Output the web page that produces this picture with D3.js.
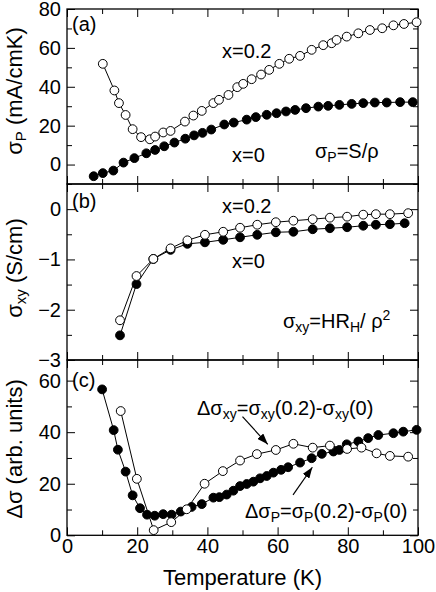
<!DOCTYPE html>
<html>
<head>
<meta charset="utf-8">
<script src="https://d3js.org/d3.v7.min.js"></script>
<style>
  body { margin: 0; background: #fff; }
  text { font-family: "Liberation Sans", Arial, sans-serif; fill: #000; }
</style>
</head>
<body>
<div id="graph"></div>
<script>

// ---- data ----
// (a) sigma_P, x=0 (filled) and x=0.2 (open)
var tempA0 = [7.6, 10.2, 13.2, 16.1, 19.2, 22.6, 25.1, 27.7, 30.6, 33.7, 36.2, 38.6, 41.1, 44.8, 47.5, 51.2, 53.8, 56.9, 59.7, 62.4, 65, 68.1, 71.6, 74.4, 77.6, 81.1, 84.4, 87.7, 91.1, 94.9, 98.5];
var sigP0  = [-6, -4.4, -3.1, 1.0, 3.3, 5.8, 7.5, 9.4, 11.3, 13.3, 15.0, 16.3, 18.0, 20.6, 21.6, 23.1, 24.4, 25.6, 26.4, 27.3, 28.1, 29, 29.8, 30.2, 30.7, 31.2, 31.6, 31.9, 31.9, 32.1, 32.1];
var tempA2 = [10.2, 13.5, 14.8, 16.7, 18.7, 21.1, 23.6, 25.1, 27.4, 29.5, 33.6, 36, 38.4, 41.7, 43.3, 46, 48.5, 50.2, 52.6, 55.3, 57.6, 60.5, 63.3, 66.4, 69.7, 73, 75.4, 76.8, 79.7, 83, 86.3, 89.8, 93, 96, 99.6];
var sigP2  = [51.8, 38.1, 31.6, 25.5, 18.2, 14.1, 13.0, 14.4, 16.5, 17.3, 22.1, 25.2, 27.6, 31.6, 33.3, 35.8, 39.8, 41.5, 43.9, 46.3, 48.7, 51.8, 54.4, 55.9, 59, 61.4, 62.4, 64.1, 65.8, 67.5, 69.2, 70.1, 71.6, 72.3, 73.2];

// (b) sigma_xy
var tempB0  = [15.1, 19.8, 24.6, 29.5, 34.3, 39.3, 44.5, 49.3, 54.2, 59.5, 64.5, 70, 74.9, 79.8, 84.4, 88, 92, 96.2];
var sigXY0  = [-2.51, -1.49, -0.99, -0.81, -0.69, -0.66, -0.61, -0.56, -0.51, -0.46, -0.45, -0.40, -0.38, -0.36, -0.33, -0.31, -0.30, -0.28];
var tempB2  = [15.1, 19.8, 24.6, 29.5, 34.3, 39.3, 44.5, 49.3, 54.2, 59.5, 64.5, 70, 74.9, 79.8, 84.4, 88, 92, 97.2];
var sigXY2  = [-2.21, -1.33, -0.99, -0.78, -0.62, -0.51, -0.45, -0.37, -0.31, -0.26, -0.23, -0.20, -0.17, -0.15, -0.11, -0.10, -0.10, -0.08];

// (c) differences: delta sigma_P (filled), delta sigma_xy (open)
var tempCP = [10.0, 13.3, 14.5, 16.7, 18.7, 20.8, 22.8, 25.0, 27.4, 29.8, 32.4, 35.5, 38.4, 41.7, 43.4, 45.5, 47.4, 49.3, 51.2, 53.1, 55, 56.9, 58.8, 61, 63, 66.4, 69.7, 72.6, 75.9, 77.6, 79.7, 83, 85.8, 88.7, 93, 95.8, 99.6];
var dSigP  = [56.6, 40.8, 33.2, 24.7, 15.5, 10.5, 8.0, 7.6, 8.2, 8.0, 9.2, 11.0, 12.1, 14.6, 14.8, 15.8, 17.3, 19.1, 19.9, 20.8, 22.1, 23.0, 24.3, 25.4, 26.4, 28.2, 29.9, 31.6, 32.5, 33.1, 35.3, 36.4, 37.7, 38.9, 39.6, 40.2, 40.9];
var tempCXY = [15.3, 19.9, 24.7, 29.7, 34.1, 39.2, 44.4, 49.3, 54.1, 59.5, 64.5, 70, 74.9, 79.8, 83.9, 88.2, 92, 97.2];
var dSigXY  = [48.2, 21.9, 2.0, 5.1, 10.1, 20.0, 24.9, 29.0, 31.5, 33.1, 35.5, 34.0, 34.8, 33.5, 34.0, 31.8, 30.8, 30.5];

// tick values
var xMajor = [0, 20, 40, 60, 80, 100];
var xMinor = [10, 30, 50, 70, 90];
var yMajorA = [0, 20, 40, 60, 80],  yMinorA = [-10, 10, 30, 50, 70];
var yMajorB = [-3, -2, -1, 0],      yMinorB = [-2.5, -1.5, -0.5, 0.5];
var yMajorC = [0, 20, 40, 60],      yMinorC = [10, 30, 50];

// ---- layout ----
var W = 436, H = 592;
var margin = {left: 67, right: 18, top: 9};
var width = W - margin.left - margin.right;

var svg = d3.select("#graph").append("svg")
  .attr("width", W).attr("height", H);

svg.append("defs").append("marker")
  .attr("id", "arrow")
  .attr("markerUnits", "userSpaceOnUse")
  .attr("markerWidth", 11).attr("markerHeight", 8)
  .attr("refX", 11).attr("refY", 4)
  .attr("orient", "auto")
  .append("path").attr("d", "M0,0 L11,4 L0,8 Z").attr("fill", "#000");

var x = d3.scaleLinear().domain([0, 100]).range([margin.left, margin.left + width]);

function zip(a, b) { return a.map(function(v, i) { return [v, b[i]]; }); }

// draw one panel, returns its y scale
function panel(top, bottom, domain, yMajor, yMinor, yFmt, showX) {
  var y = d3.scaleLinear().domain(domain).range([bottom, top]);
  var g = svg.append("g");

  function ax(axis, tr) {
    var a = g.append("g").attr("transform", tr).call(axis);
    a.select(".domain").remove();
    a.selectAll("line").attr("stroke", "#000").attr("stroke-width", 1);
    a.selectAll("text").style("font-size", "20px").attr("font-family", null);
    return a;
  }
  // left & right
  ax(d3.axisLeft(y).tickValues(yMajor).tickSize(-8).tickPadding(6).tickFormat(yFmt), "translate(" + x(0) + ",0)");
  ax(d3.axisLeft(y).tickValues(yMinor).tickSize(-5).tickFormat(""), "translate(" + x(0) + ",0)");
  ax(d3.axisRight(y).tickValues(yMajor).tickSize(-8).tickFormat(""), "translate(" + x(100) + ",0)");
  ax(d3.axisRight(y).tickValues(yMinor).tickSize(-5).tickFormat(""), "translate(" + x(100) + ",0)");
  // top & bottom
  ax(d3.axisTop(x).tickValues(xMajor).tickSize(-8).tickFormat(""), "translate(0," + top + ")");
  ax(d3.axisTop(x).tickValues(xMinor).tickSize(-5).tickFormat(""), "translate(0," + top + ")");
  ax(d3.axisBottom(x).tickValues(xMajor).tickSize(-8).tickPadding(3).tickFormat(showX ? d3.format("d") : ""), "translate(0," + bottom + ")");
  ax(d3.axisBottom(x).tickValues(xMinor).tickSize(-5).tickFormat(""), "translate(0," + bottom + ")");

  g.append("rect")
    .attr("x", x(0)).attr("y", top)
    .attr("width", x(100) - x(0)).attr("height", bottom - top)
    .attr("fill", "none").attr("stroke", "#000").attr("stroke-width", 1.3);
  return y;
}

function series(y, data, filled) {
  var line = d3.line().x(function(d) { return x(d[0]); }).y(function(d) { return y(d[1]); });
  svg.append("path").datum(data)
    .attr("d", line).attr("fill", "none").attr("stroke", "#000").attr("stroke-width", 1);
  svg.append("g").selectAll("circle").data(data).enter().append("circle")
    .attr("cx", function(d) { return x(d[0]); })
    .attr("cy", function(d) { return y(d[1]); })
    .attr("r", 4.4)
    .attr("fill", filled ? "#000" : "#fff")
    .attr("stroke", "#000").attr("stroke-width", 1);
}

// text with sub/superscripts: parts = [[str, "sub"|"sup"|null], ...]
function rich(parent, px, py, parts, size, anchor, tr) {
  var t = parent.append("text").attr("x", px).attr("y", py)
    .style("font-size", size + "px")
    .attr("text-anchor", anchor || "start");
  if (tr) t.attr("transform", tr);
  var shift = 0;
  parts.forEach(function(p) {
    var s = p[1] === "sub" ? 4 : (p[1] === "sup" ? -8 : 0);
    t.append("tspan").attr("dy", s - shift)
      .style("font-size", p[1] ? Math.round(size * 0.7) + "px" : null)
      .text(p[0]);
    shift = s;
  });
  return t;
}

var yA = panel(9, 184, [-10, 80], yMajorA, yMinorA, d3.format("d"), false);
var yB = panel(184, 360, [-3, 0.5], yMajorB, yMinorB, d3.format("d"), false);
var yC = panel(360, 535.3, [0, 68], yMajorC, yMinorC, d3.format("d"), true);

// hide the "-3"/"0" overlap issues: none; panel (c) labels fine

series(yA, zip(tempA0, sigP0), true);
series(yA, zip(tempA2, sigP2), false);
series(yB, zip(tempB0, sigXY0), true);
series(yB, zip(tempB2, sigXY2), false);
series(yC, zip(tempCP, dSigP), true);
series(yC, zip(tempCXY, dSigXY), false);

// arrows in panel (c)
svg.append("line")
  .attr("x1", x(50)).attr("y1", yC(46)).attr("x2", x(57.2)).attr("y2", yC(35.3))
  .attr("stroke", "#000").attr("stroke-width", 1.2).attr("marker-end", "url(#arrow)");
svg.append("line")
  .attr("x1", x(64.4)).attr("y1", yC(15.7)).attr("x2", x(69.9)).attr("y2", yC(26.4))
  .attr("stroke", "#000").attr("stroke-width", 1.2).attr("marker-end", "url(#arrow)");

// panel annotations
var ann = svg.append("g");
ann.append("text").attr("x", 72).attr("y", 31).style("font-size", "20px").text("(a)");
ann.append("text").attr("x", 222).attr("y", 58).style("font-size", "20px").text("x=0.2");
ann.append("text").attr("x", 232).attr("y", 162).style("font-size", "20px").text("x=0");
rich(ann, 315, 158, [["σ"], ["P", "sub"], ["=S/ρ"]], 20);

ann.append("text").attr("x", 72).attr("y", 208).style("font-size", "20px").text("(b)");
ann.append("text").attr("x", 222).attr("y", 213).style("font-size", "20px").text("x=0.2");
ann.append("text").attr("x", 232).attr("y", 268).style("font-size", "20px").text("x=0");
rich(ann, 283, 328, [["σ"], ["xy", "sub"], ["=HR"], ["H", "sub"], ["/ ρ"], ["2", "sup"]], 20);

ann.append("text").attr("x", 72).attr("y", 387).style("font-size", "20px").text("(c)");
rich(ann, 197, 415, [["Δσ"], ["xy", "sub"], ["=σ"], ["xy", "sub"], ["(0.2)-σ"], ["xy", "sub"], ["(0)"]], 20);
rich(ann, 245, 518, [["Δσ"], ["P", "sub"], ["=σ"], ["P", "sub"], ["(0.2)-σ"], ["P", "sub"], ["(0)"]], 20);

// axis titles
svg.append("text")
  .attr("x", (x(0) + x(100)) / 2).attr("y", 585)
  .attr("text-anchor", "middle").style("font-size", "22px")
  .text("Temperature (K)");
rich(svg, 0, 0, [["σ"], ["P", "sub"], [" (mA/cmK)"]], 22, "middle", "translate(22,91) rotate(-90)");
rich(svg, 0, 0, [["σ"], ["xy", "sub"], [" (S/cm)"]], 22, "middle", "translate(22,268) rotate(-90)");
rich(svg, 0, 0, [["Δσ (arb. units)"]], 22, "middle", "translate(22,449) rotate(-90)");

</script>
</body>
</html>
